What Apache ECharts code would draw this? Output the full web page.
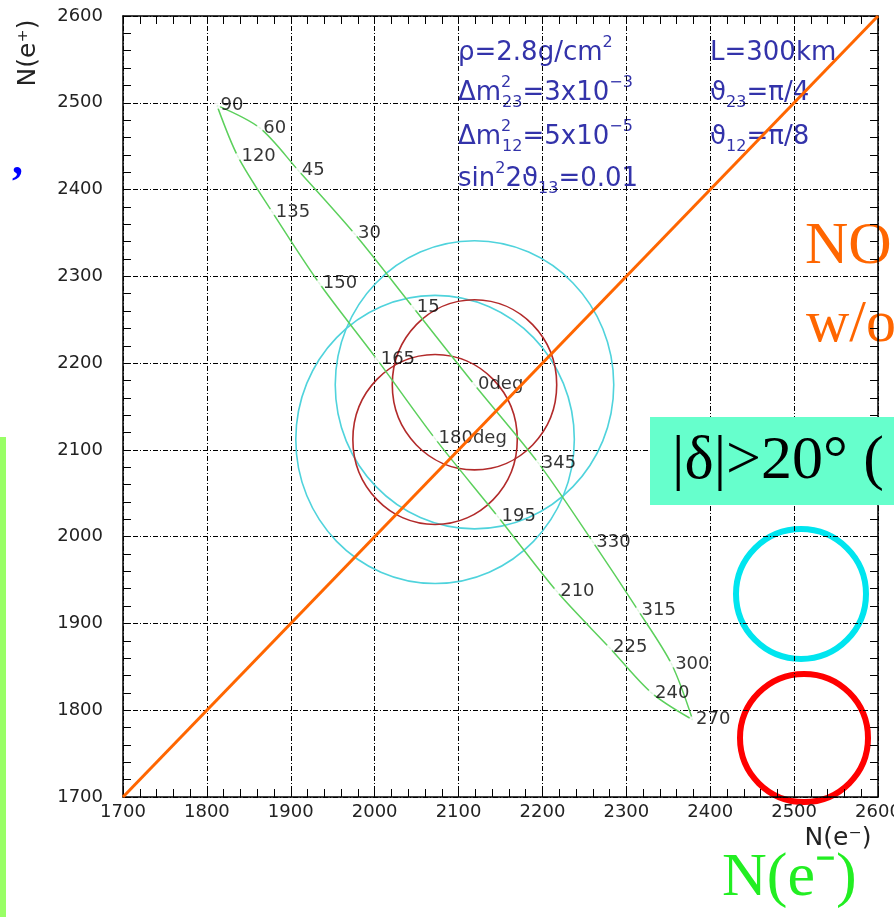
<!DOCTYPE html>
<html><head><meta charset="utf-8">
<script src="https://cdn.jsdelivr.net/npm/echarts@6/dist/echarts.min.js"></script>
<style>html,body{margin:0;padding:0;background:#fff}#c{width:894px;height:917px}</style>
</head><body><div id="c"></div>
<script>
// ---- data ----
const tickValues = [1700, 1800, 1900, 2000, 2100, 2200, 2300, 2400, 2500, 2600];
const angleLabels = ['90','60','45','30','15','0deg','345','330','315','300','270','240','225','210','195','180deg','165','150','135','120'];
const nEminus = [1812,1863,1909,1976,2046,2119,2195,2260,2314,2354,2379,2330,2280,2217,2147,2072,2003,1934,1878,1837];
const nEplus  = [2497,2471,2422,2349,2264,2175,2085,1994,1915,1853,1789,1820,1872,1937,2023,2113,2204,2292,2374,2438];
const diagX = [1700, 2600];
const diagY = [1700, 2600];
const cyanCx = [2119, 2072];
const cyanCy = [2175, 2112];
const cyanR  = [166, 166];
const redCx = [2119, 2072];
const redCy = [2175, 2112];
const redR  = [98, 98];

// ---- build ----
const pts = nEminus.map((x, i) => [x, nEplus[i]]);
const loop = pts.concat([pts[0]]);
const labeled = nEminus.map((x, i) => ({ value: [x, nEplus[i]], name: angleLabels[i] }));

const FONT = '"DejaVu Sans", sans-serif';
const SERIF = '"Liberation Serif", "Times New Roman", serif';
const gridLine = { show: true, lineStyle: { color: '#000', width: 1, type: [5, 2, 1, 2] } };

function axisCommon(pos, labels) {
  return {
    type: 'value', position: pos,
    min: tickValues[0], max: tickValues[tickValues.length - 1], interval: 100,
    axisLine: { show: true, onZero: false, lineStyle: { color: '#000', width: 1.5 } },
    axisTick: { show: true, inside: true, length: 8, lineStyle: { color: '#000', width: 1 } },
    minorTick: { show: true, splitNumber: 5, length: 8, lineStyle: { color: '#000', width: 1 } },
    axisLabel: labels ? { show: true, color: '#222', fontSize: 18, fontFamily: FONT, formatter: v => String(v) } : { show: false },
    splitLine: labels ? gridLine : { show: false },
    minorSplitLine: { show: false }
  };
}
const xb = axisCommon('bottom', true); xb.axisLabel.margin = 6;
const yl = axisCommon('left', true); yl.axisLabel.margin = 20;

function ellipseRenderer(color) {
  return function (params, api) {
    const c = api.coord([api.value(0), api.value(1)]);
    const s = api.size([api.value(2), api.value(2)]);
    return { type: 'ellipse', shape: { cx: c[0], cy: c[1], rx: s[0], ry: s[1] },
      style: { fill: 'none', stroke: color, lineWidth: 1.6 } };
  };
}

const txt = (x, y, text, font, fill, extra) => Object.assign({ type: 'text', x: x, y: y,
  style: { text: text, font: font, fill: fill, verticalAlign: 'middle', textVerticalAlign: 'middle' } }, extra || {});

const BLUE = '#3333aa';
const annRich = {
  n: { fontSize: 26, fontFamily: FONT, color: BLUE, lineHeight: 36 },
  p: { fontSize: 16, fontFamily: FONT, color: BLUE, lineHeight: 16, verticalAlign: 'top' },
  q: { fontSize: 16, fontFamily: FONT, color: BLUE, lineHeight: 16, verticalAlign: 'top', width: 1 },
  b: { fontSize: 16, fontFamily: FONT, color: BLUE, lineHeight: 16, verticalAlign: 'bottom' }
};
const ann = (x, yc, text) => ({ type: 'text', x: x, y: yc - 18,
  style: { text: text, rich: annRich, fill: BLUE, font: '26px ' + FONT, verticalAlign: 'top', textVerticalAlign: 'top' } });

const chart = echarts.init(document.getElementById('c'), null, { renderer: 'canvas' });
chart.setOption({
  animation: false,
  backgroundColor: '#fff',
  grid: { left: 123, right: 16, top: 16, bottom: 120, containLabel: false, outerBoundsMode: 'none' },
  xAxis: [xb, axisCommon('top', false)],
  yAxis: [yl, axisCommon('right', false)],
  series: [
    { type: 'custom', renderItem: ellipseRenderer('#4fd3dc'), encode: { x: 0, y: 1 },
      data: cyanCx.map((x, i) => [x, cyanCy[i], cyanR[i]]), z: 2, silent: true },
    { type: 'custom', renderItem: ellipseRenderer('#b22a2a'), encode: { x: 0, y: 1 },
      data: redCx.map((x, i) => [x, redCy[i], redR[i]]), z: 2, silent: true },
    { type: 'line', data: loop, smooth: 0.3, symbol: 'none',
      lineStyle: { color: '#5cd05c', width: 1.5 }, z: 3 },
    { type: 'scatter', data: labeled, symbol: 'emptyCircle', symbolSize: 5,
      itemStyle: { color: '#fff', borderColor: '#111', borderWidth: 1.2 },
      label: { show: true, position: 'right', distance: 0, formatter: p => p.name,
        color: '#000', fontSize: 18, fontFamily: FONT }, z: 4 },
    { type: 'line', data: diagX.map((x, i) => [x, diagY[i]]), symbol: 'none',
      lineStyle: { color: '#ff6600', width: 3 }, z: 5 }
  ],
  graphic: [
    { type: 'text', x: 28, y: 53, rotation: Math.PI / 2,
      style: { text: 'N(e⁺)', font: '25px ' + FONT, fill: '#222', align: 'center', verticalAlign: 'middle', textAlign: 'center', textVerticalAlign: 'middle' } },
    { type: 'text', x: 838, y: 838,
      style: { text: 'N(e⁻)', font: '25px ' + FONT, fill: '#222', align: 'center', verticalAlign: 'middle', textAlign: 'center', textVerticalAlign: 'middle' } },
    ann(458, 53, '{n|ρ=2.8g/cm}{p|2}'),
    ann(458, 93, '{n|Δm}{q|2}{b|23}{n|=3x10}{p|−3}'),
    ann(458, 137, '{n|Δm}{q|2}{b|12}{n|=5x10}{p|−5}'),
    ann(458, 179, '{n|sin}{p|2}{n|2ϑ}{b|13}{n|=0.01}'),
    ann(710, 53, '{n|L=300km}'),
    ann(710, 93, '{n|ϑ}{b|23}{n|=π/4}'),
    ann(710, 137, '{n|ϑ}{b|12}{n|=π/8}'),
    { type: 'rect', shape: { x: 0, y: 437, width: 6, height: 480 }, style: { fill: '#99ff66' } },
    txt(12, 163, ',', 'bold 44px ' + SERIF, '#0000ff'),
    txt(805, 247, 'NO', '60px ' + SERIF, '#ff6600'),
    txt(806, 325, 'w/o', '60px ' + SERIF, '#ff6600'),
    { type: 'rect', shape: { x: 650, y: 417, width: 244, height: 88 }, style: { fill: '#66ffcc' }, z: 100 },
    txt(672, 462, '|δ|>20° (', '62px ' + SERIF, '#000', { z: 101 }),
    { type: 'circle', shape: { cx: 801, cy: 594, r: 65 }, style: { fill: 'none', stroke: '#00e5ef', lineWidth: 6 } },
    { type: 'circle', shape: { cx: 804, cy: 738, r: 64 }, style: { fill: 'none', stroke: '#ff0000', lineWidth: 6 } },
    txt(722, 879, 'N(e⁻)', '62px ' + SERIF, '#22ee22')
  ]
});
</script></body></html>
